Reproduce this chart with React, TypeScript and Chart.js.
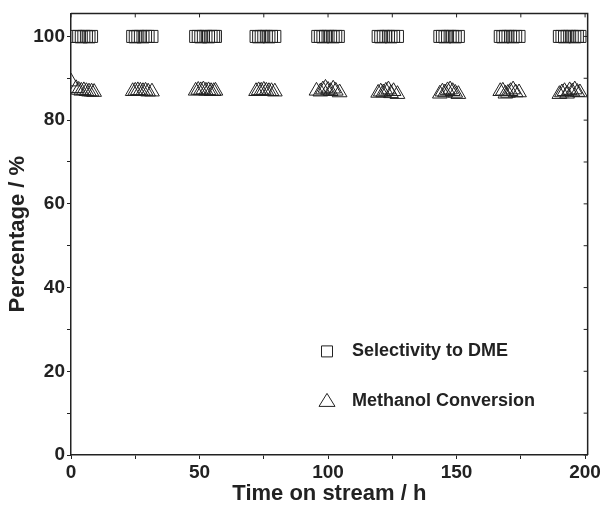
import React, { useEffect, useRef } from 'react';
import { Chart, registerables } from 'chart.js';

Chart.register(...registerables);

// Time on stream (h) for each measurement
const selTime = [
  2, 3, 4, 5, 6, 7, 8,
  24, 25, 26, 27, 28, 29, 30, 31.5,
  48.5, 49.5, 50.5, 51.5, 52.5, 53.5, 54.5, 55.5, 56.2,
  72, 73, 74, 75, 76, 77, 78, 79.3,
  96, 97, 98, 99, 100, 101, 102, 103, 104,
  119.5, 120.5, 121.5, 122.5, 123.5, 124.5, 125.5, 127,
  143.5, 144.5, 145.5, 146.5, 147.5, 148.5, 149.5, 150.7,
  167, 168, 169, 170, 171, 172, 173, 174.3,
  190, 191, 192, 193, 194, 195, 196, 197, 198,
];
const selValue = [
  100, 100, 99.9, 100, 100, 99.9, 100,
  100, 99.9, 100, 100, 99.9, 100, 100, 100,
  100, 100, 99.9, 100, 100, 99.9, 100, 100, 100,
  100, 99.9, 100, 100, 100, 99.9, 100, 100,
  100, 100, 99.9, 100, 100, 100, 99.9, 100, 100,
  100, 99.9, 100, 100, 100, 99.9, 100, 100,
  100, 100, 99.9, 100, 100, 100, 99.9, 100,
  100, 99.9, 100, 100, 100, 99.9, 100, 100,
  100, 100, 99.9, 100, 100, 100, 99.9, 100, 100,
];

const convTime = [
  0, 2, 3, 4, 5, 6, 7, 8, 9,
  24, 25, 26, 27, 28, 29, 30, 31.5,
  48.5, 49.5, 50.5, 51.5, 52.5, 53.5, 54.5, 55.5, 56.2,
  72, 73, 74, 75, 76, 77, 78, 79.3,
  95.5, 97, 98, 99, 100, 101, 102, 103, 104.5,
  119.5, 120.5, 121.5, 122.5, 123.5, 124.5, 125.5, 127,
  143.5, 144.5, 145.5, 146.5, 147.5, 148.5, 149.5, 150.7,
  167, 168, 169, 170, 171, 172, 173, 174.3,
  190, 191, 192, 193, 194, 195, 196, 197, 198,
];
const convValue = [
  89.2, 87.6, 87.2, 87.0, 87.1, 86.9, 86.8, 86.8, 86.7,
  86.9, 87.0, 87.1, 87.0, 86.9, 87.0, 86.8, 86.8,
  87.0, 87.2, 87.1, 87.3, 87.0, 87.1, 86.9, 86.9, 87.0,
  86.9, 87.1, 87.0, 87.2, 87.0, 86.9, 86.9, 86.8,
  87.0, 86.8, 87.3, 87.7, 87.2, 86.9, 87.5, 87.0, 86.6,
  86.5, 86.8, 86.6, 87.0, 87.3, 86.4, 86.9, 86.2,
  86.3, 86.8, 86.6, 87.1, 87.3, 86.9, 86.5, 86.2,
  86.9, 87.0, 86.3, 86.5, 86.9, 87.3, 86.6, 86.6,
  86.2, 86.6, 86.9, 86.3, 87.1, 86.8, 87.3, 86.7, 86.6,
];

const seriesLabels = ['Selectivity to DME', 'Methanol Conversion'];
const xAxisTitle = 'Time on stream / h';
const yAxisTitle = 'Percentage / %';
const xLabelStep = 50;
const yLabelStep = 20;

const INK = '#222222';
const FONT = "'Liberation Sans', Arial, Helvetica, sans-serif";

const framePlugin = {
  id: 'frameAndLegend',
  afterDraw(chart: any) {
    const { ctx, chartArea } = chart;
    const { left, right, top, bottom } = chartArea;
    const xs = chart.scales.x;
    const ys = chart.scales.y;
    ctx.save();
    ctx.strokeStyle = INK;
    ctx.lineWidth = 1.5;
    ctx.beginPath();
    ctx.moveTo(left, top);
    ctx.lineTo(right, top);
    ctx.lineTo(right, bottom);
    ctx.stroke();
    ctx.lineWidth = 1;
    ctx.beginPath();
    xs.ticks.forEach((t: any) => {
      const px = xs.getPixelForValue(t.value);
      ctx.moveTo(px, top);
      ctx.lineTo(px, top + 4);
    });
    ys.ticks.forEach((t: any) => {
      const py = ys.getPixelForValue(t.value);
      ctx.moveTo(right, py);
      ctx.lineTo(right - 4, py);
    });
    ctx.stroke();

    // legend inside plot
    const items = chart.data.datasets.map((d: any) => ({ label: d.label, style: d.pointStyle }));
    const lx = left + 256;
    const ly0 = top + 338;
    const gap = 50;
    ctx.font = `bold 18px ${FONT}`;
    ctx.fillStyle = INK;
    ctx.textBaseline = 'middle';
    items.forEach((it: any, i: number) => {
      const cy = ly0 + i * gap;
      ctx.lineWidth = 1;
      ctx.strokeStyle = INK;
      ctx.beginPath();
      if (it.style === 'rect') {
        ctx.rect(lx - 5.5, cy - 5.5, 11, 11);
      } else {
        ctx.moveTo(lx, cy - 8);
        ctx.lineTo(lx + 8, cy + 5);
        ctx.lineTo(lx - 8, cy + 5);
        ctx.closePath();
      }
      ctx.stroke();
      ctx.fillText(it.label, lx + 25, cy);
    });
    ctx.restore();
  },
};

export default function App() {
  const ref = useRef<HTMLCanvasElement | null>(null);
  useEffect(() => {
    if (!ref.current) return;
    const chart = new Chart(ref.current, {
      type: 'scatter',
      data: {
        datasets: [
          {
            label: seriesLabels[0],
            data: selTime.map((t, i) => ({ x: t, y: selValue[i] })),
            pointStyle: 'rect',
            pointRadius: 8.5,
            borderColor: INK,
            backgroundColor: 'rgba(0,0,0,0)',
            borderWidth: 1,
          },
          {
            label: seriesLabels[1],
            data: convTime.map((t, i) => ({ x: t, y: convValue[i] })),
            pointStyle: 'triangle',
            pointRadius: 8.5,
            borderColor: INK,
            backgroundColor: 'rgba(0,0,0,0)',
            borderWidth: 1,
          },
        ],
      },
      options: {
        animation: false,
        responsive: false,
        devicePixelRatio: 1,
        layout: { padding: { top: 12, right: 13, left: 0, bottom: 0 } },
        plugins: { legend: { display: false }, tooltip: { enabled: false } },
        scales: {
          x: {
            type: 'linear',
            min: 0,
            max: 201,
            afterFit: (s: any) => { s.height = 52; },
            border: { display: true, color: INK, width: 1.5 },
            grid: { display: true, drawOnChartArea: false, tickLength: 4, color: INK, tickWidth: 1 },
            ticks: {
              stepSize: 25,
              includeBounds: false,
              padding: 2,
              color: INK,
              font: { family: FONT, size: 19, weight: 'bold' },
              maxRotation: 0,
              autoSkip: false,
              callback: (v: any) => (Number(v) % xLabelStep === 0 ? String(v) : ''),
            },
            title: {
              display: true,
              text: xAxisTitle,
              color: INK,
              font: { family: FONT, size: 22, weight: 'bold' },
              padding: { top: 0, bottom: 0 },
            },
          },
          y: {
            type: 'linear',
            min: 0,
            max: 105.5,
            afterFit: (s: any) => { s.width = 71; },
            border: { display: true, color: INK, width: 1.5 },
            grid: { display: true, drawOnChartArea: false, tickLength: 4, color: INK, tickWidth: 1 },
            ticks: {
              stepSize: 10,
              includeBounds: false,
              padding: 2,
              color: INK,
              font: { family: FONT, size: 19, weight: 'bold' },
              autoSkip: false,
              callback: (v: any) => (Number(v) % yLabelStep === 0 ? String(v) : ''),
            },
            title: {
              display: true,
              text: yAxisTitle,
              color: INK,
              font: { family: FONT, size: 22, weight: 'bold' },
              padding: { top: 5, bottom: 0 },
            },
          },
        },
      },
      plugins: [framePlugin],
    });
    return () => chart.destroy();
  }, []);
  return (
    <div style={{ position: 'absolute', left: 0, top: 0, width: 603, height: 507, background: '#fff' }}>
      <canvas ref={ref} width={603} height={507} />
    </div>
  );
}
